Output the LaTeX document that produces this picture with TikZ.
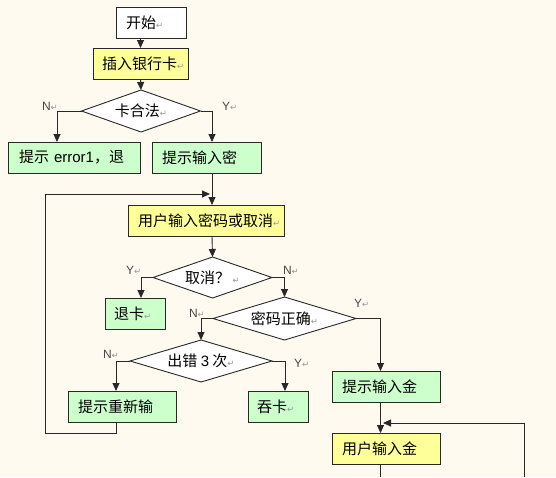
\documentclass[tikz,border=0pt]{standalone}
\usepackage{fontspec}
\usetikzlibrary{shapes.geometric,arrows.meta,calc}
\newfontfamily\cjk{Noto Sans CJK SC}
\newfontfamily\latinf{Liberation Sans}
\newfontfamily\retfont{DejaVu Sans}
\definecolor{bgc}{RGB}{255,250,240}
\definecolor{ybox}{RGB}{255,255,153}
\definecolor{gbox}{RGB}{204,255,204}
\definecolor{retgray}{RGB}{150,150,150}
\definecolor{lnc}{RGB}{40,40,40}
\definecolor{lblc}{RGB}{70,70,70}
\newcommand\retm{{\retfont\color{retgray}\fontsize{8.5}{8.5}\selectfont ↵}}
\begin{document}
\begin{tikzpicture}[x=1pt,y=-1pt,
  every node/.style={outer sep=0pt},
  boxst/.style={draw=lnc, line width=0.9pt, minimum height=31pt, inner ysep=0pt,
     align=left, anchor=north west, font=\cjk\fontsize{15}{17}\selectfont},
  whitebox/.style={boxst, fill=white},
  yelbox/.style={boxst, fill=ybox},
  grnbox/.style={boxst, fill=gbox},
  decision/.style={draw=lnc, line width=0.9pt, fill=white, shape=diamond, aspect=3.6,
     inner sep=0pt, font=\cjk\fontsize{15}{17}\selectfont},
  lbl/.style={anchor=west, inner sep=0pt, text=lblc, font=\latinf\fontsize{12}{12}\selectfont},
  conn/.style={draw=lnc, line width=0.9pt},
  arr/.style={conn, -{Triangle[length=8pt,width=7pt]}}]
\useasboundingbox (0,0) rectangle (556,477);
\fill[bgc] (0,0) rectangle (556,477);

% x positions of vertical lines
\coordinate (xA) at (140.5,0);
\coordinate (xB) at (57,0);
\coordinate (xC) at (212,0);
\coordinate (xD) at (141,0);
\coordinate (xE) at (284,0);
\coordinate (xF) at (200,0);
\coordinate (xG) at (380.5,0);
\coordinate (xH) at (116,0);
\coordinate (xI) at (285,0);

% boxes
\node[whitebox, text width=50pt, inner xsep=10pt] (start) at (116,7) {\mbox{开始\retm}};
\node[yelbox, text width=77pt, inner xsep=9pt] (ins) at (93,48) {\mbox{插入银行卡\retm}};
\node[decision, minimum width=119pt, minimum height=42pt] (d1) at (141,111) {卡合法\retm};
\node[grnbox, text width=110pt, inner xsep=11pt] (err) at (8,142) {\mbox{提示 {\latinf error1}，退}};
\node[grnbox, text width=89pt, inner xsep=10pt] (pwd) at (152,142) {\mbox{提示输入密}};
\node[yelbox, text width=136pt, inner xsep=10pt] (upwd) at (128,205) {\mbox{用户输入密码或取消\retm}};
\node[decision, minimum width=119pt, minimum height=41pt] (d2) at (212.5,277.5) {取消？\,\retm};
\node[grnbox, text width=42pt, inner xsep=9pt] (tuika) at (105,298) {\mbox{退卡\retm}};
\node[decision, minimum width=143pt, minimum height=43pt] (d3) at (284.5,318.5) {密码正确\retm};
\node[decision, minimum width=142pt, minimum height=42pt] (d4) at (201,361) {出错 {\latinf 3} 次\retm};
\node[grnbox, text width=88pt, inner xsep=10pt] (retry) at (68,391) {\mbox{提示重新输}};
\node[grnbox, text width=42pt, inner xsep=9pt] (tunka) at (248,391) {\mbox{吞卡\retm}};
\node[grnbox, text width=88pt, inner xsep=10pt] (amt) at (332,371) {\mbox{提示输入金}};
\node[yelbox, text width=88pt, inner xsep=10pt] (uamt) at (332,433) {\mbox{用户输入金}};

% labels
\node[lbl] (lN1) at (42,106) {N\retm};
\node[lbl] (lY1) at (222,106) {Y\retm};
\node[lbl] (lY2) at (126,270) {Y\retm};
\node[lbl] (lN2) at (283,270) {N\retm};
\node[lbl] (lN3) at (189,313) {N\retm};
\node[lbl] (lY3) at (354,303) {Y\retm};
\node[lbl] (lN4) at (103,354) {N\retm};
\node[lbl] (lY4) at (294,363) {Y\retm};

% free ends
\coordinate (lpA) at (45,433);
\coordinate (lpB) at (45,194);
\coordinate (lpEnd) at (210,194);
\coordinate (bot) at (380.5,477);
\coordinate (rb) at (524,477);
\coordinate (rt) at (524,423);
\coordinate (rEnd) at (383,423);

% connectors
\draw[arr] (start.south -| xA) -- (ins.north -| xA);
\draw[arr] (ins.south -| xA) -- (d1.north);
\draw[arr] (d1.west) -| (err.north -| xB);
\draw[arr] (d1.east) -| (pwd.north -| xC);
\draw[arr] (pwd.south -| xC) -- (upwd.north -| xC);
\draw[arr] (upwd.south -| xC) -- (d2.north);
\draw[arr] (d2.west) -| (tuika.north -| xD);
\draw[arr] (d2.east) -| (d3.north);
\draw[arr] (d3.west) -| (d4.north);
\draw[arr] (d3.east) -| (amt.north -| xG);
\draw[arr] (d4.west) -| (retry.north -| xH);
\draw[arr] (d4.east) -| (tunka.north -| xI);
\draw[arr] (retry.south -| xH) |- (lpA) -- (lpB) -- (lpEnd);
\draw[arr] (amt.south -| xG) -- (uamt.north -| xG);
\draw[conn] (uamt.south -| xG) -- (bot);
\draw[arr] (rb) -- (rt) -- (rEnd);
\end{tikzpicture}
\end{document}
